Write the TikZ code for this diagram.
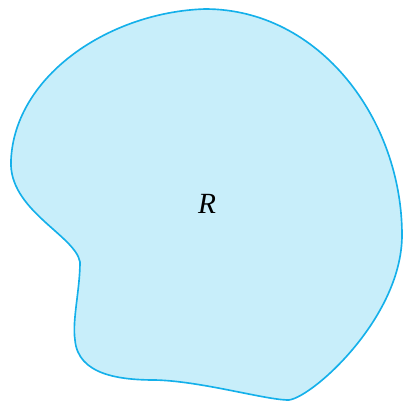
\documentclass[tikz,border=0pt]{standalone}
\usepackage{fontspec}
\setmainfont{Liberation Serif}
\usepackage{tikz}
\usetikzlibrary{positioning}
\definecolor{regionfill}{RGB}{200,238,250}
\definecolor{regionline}{RGB}{20,176,234}
\tikzset{
	regionstyle/.style={fill=regionfill, draw=regionline, line width=1.4pt},
	labeltext/.style={font=\fontsize{25}{28}\selectfont\itshape}
}

\begin{document}
\begin{tikzpicture}[x=0.3mm, y=-0.3mm]
      \useasboundingbox (0,0) rectangle (403,402);
      % outline of the region, traced anticlockwise from the top
      \draw[regionstyle] (205,9)
        .. controls (110,12) and (15,75) .. (11,160)
        .. controls (8,210) and (75,235) .. (80,262)
        .. controls (80,290) and (72,320) .. (75,340)
        .. controls (78,375) and (120,380) .. (155,380)
        .. controls (200,381) and (262,399) .. (287,400)
        .. controls (307,402) and (402,320) .. (402,235)
        .. controls (402,120) and (320,9) .. (205,9) -- cycle;
      \node[labeltext] (rlabel) at (207,204) {R};
    \end{tikzpicture}
\end{document}
